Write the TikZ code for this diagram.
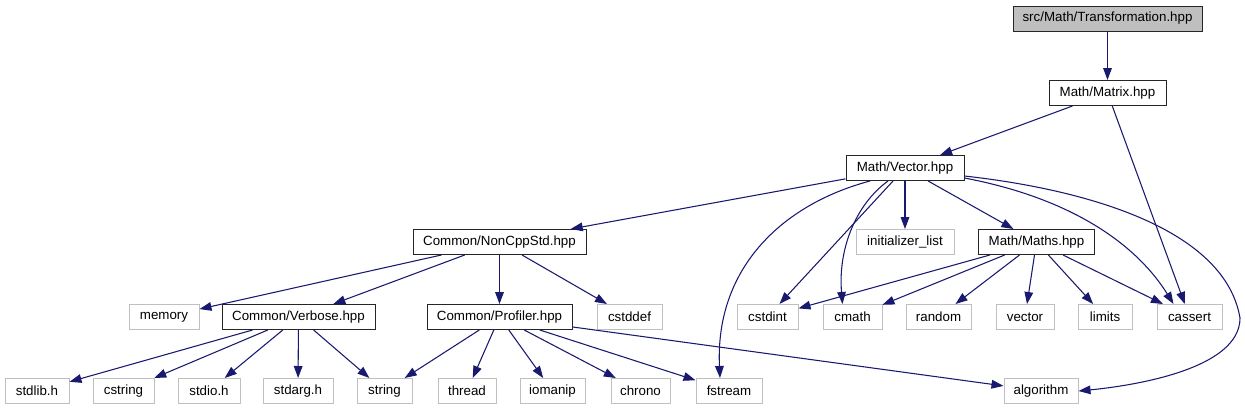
\documentclass[tikz,border=0pt]{standalone}
\usepackage{fontspec}
\setmainfont{Liberation Sans}
\usepackage{tikz}
\usetikzlibrary{arrows.meta, calc}

\definecolor{edgeblue}{HTML}{191970}
\definecolor{leafgray}{HTML}{BFBFBF}

\begin{document}
\begin{tikzpicture}[x=0.75pt, y=-0.75pt, >={Triangle[length=9pt, width=6.5pt]}, font=\fontsize{10}{12}\selectfont,
  hdr/.style={draw=black!85, line width=0.75pt, inner sep=0pt, minimum height=18.75pt, minimum width=#1*0.75pt},
  sys/.style={hdr=#1, draw=leafgray},
  dep/.style={->, draw=edgeblue, line width=0.8pt}]
  \useasboundingbox (0,0) rectangle (1245,411);

  % own headers
  \node[hdr=189, fill=leafgray] (trans) at (1107.5,18.5) {src/Math/Transformation.hpp};
  \node[hdr=117] (matrix) at (1107.5,93) {Math/Matrix.hpp};
  \node[hdr=118] (vector) at (905,168) {Math/Vector.hpp};
  \node[hdr=173] (noncpp) at (499.5,242) {Common/NonCppStd.hpp};
  \node[hdr=116] (maths) at (1036.5,242) {Math/Maths.hpp};
  \node[hdr=153] (verbose) at (298.5,317) {Common/Verbose.hpp};
  \node[hdr=145] (profiler) at (499.5,317) {Common/Profiler.hpp};

  % system headers
  \node[sys=98] (initlist) at (905,242) {initializer\_list};
  \foreach \name/\txt/\x/\w in {memory/memory/164/70, cstddef/cstddef/629.5/65, cstdint/cstdint/767.5/61,
      cmath/cmath/852.5/59, random/random/938.5/65, vec/vector/1025/58, limits/limits/1105/54, cassert/cassert/1189.5/65}
    {\node[sys=\w] (\name) at (\x,317) {\txt};}
  \foreach \name/\txt/\x/\w in {stdlibh/stdlib.h/37/64, cstring/cstring/123.5/61, stdioh/stdio.h/209/62,
      stdargh/stdarg.h/298/70, string/string/384.5/55, thread/thread/467/58, iomanip/iomanip/552.5/65,
      chrono/chrono/640.5/59, fstream/fstream/729/66, algorithm/algorithm/1041/74}
    {\node[sys=\w] (\name) at (\x,391) {\txt};}

  % straight includes
  \foreach \a/\b in {trans/matrix, matrix/vector, matrix/cassert, vector/noncpp, vector/initlist, vector/maths,
      vector/cstdint, noncpp/memory, noncpp/verbose, noncpp/profiler, noncpp/cstddef,
      maths/cstdint, maths/cmath, maths/random, maths/vec, maths/limits, maths/cassert,
      verbose/stdlibh, verbose/cstring, verbose/stdioh, verbose/stdargh, verbose/string,
      profiler/string, profiler/thread, profiler/iomanip, profiler/chrono, profiler/fstream, profiler/algorithm}
    {\draw[dep] (\a) -- (\b);}

  % curved includes
  \draw[dep] ($(vector.south)+(-35,0)$) .. controls (780,205) and (715,270) .. ($(fstream.north)+(-9,0)$);
  \draw[dep] ($(vector.south)+(-17,0)$) .. controls (855,205) and (838,250) .. ($(cmath.north)+(-10,0)$);
  \draw[dep] ($(vector.east)+(0,10)$) .. controls (1080,200) and (1140,250) .. ($(cassert.north)+(-16,0)$);
  \draw[dep] ($(vector.east)+(0,8)$) .. controls (1090,190) and (1225,230) .. (1240,318)
    .. controls (1240,370) and (1130,386) .. (algorithm.east);
\end{tikzpicture}
\end{document}
